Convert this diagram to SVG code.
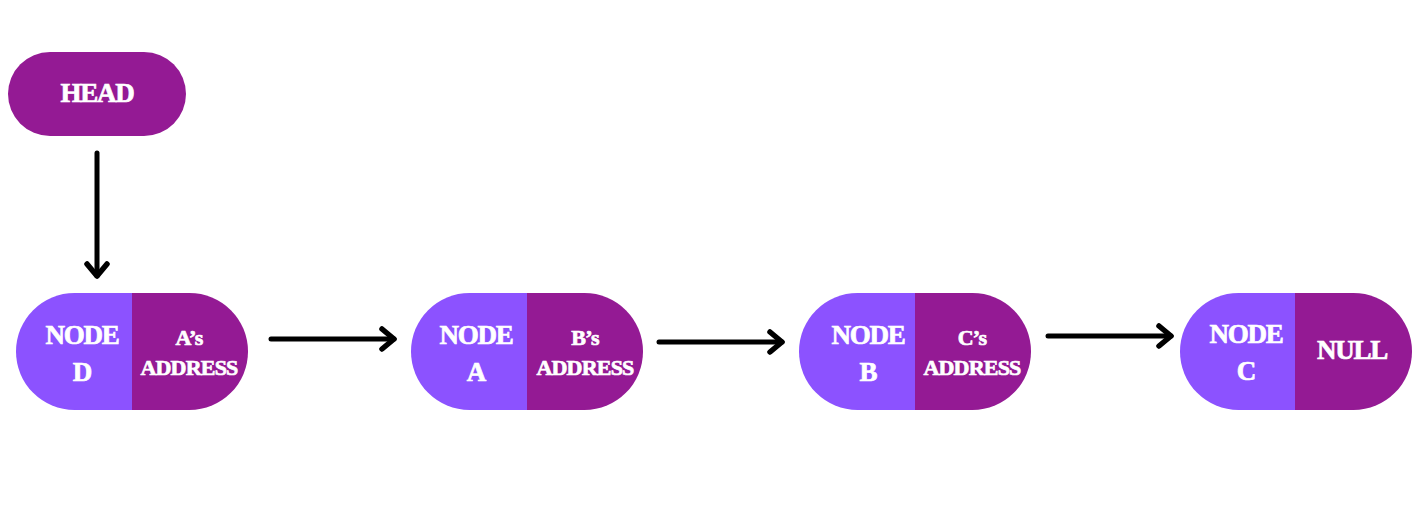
<svg xmlns="http://www.w3.org/2000/svg" width="1417" height="520" viewBox="0 0 1417 520">
<defs>
<style>
.dark{fill:#941a94}
.light{fill:#8c52ff}
.t{fill:#ffffff;stroke:#ffffff;stroke-width:0.7px;font-family:"Liberation Serif","DejaVu Serif",serif;font-weight:bold;text-anchor:middle}
.big{font-size:27px;letter-spacing:-1.2px}
.small{font-size:22px;letter-spacing:-0.8px}
.conn{stroke:#000;stroke-width:5;fill:none;stroke-linecap:round}
</style>
<marker id="arr" markerUnits="userSpaceOnUse" markerWidth="30" markerHeight="30" viewBox="-20 -15 30 30" refX="0" refY="0" orient="auto">
<path d="M-12,-10 L0,0 L-12,10" fill="none" stroke="#000" stroke-width="5.5" stroke-linecap="round" stroke-linejoin="round"/>
</marker>
<clipPath id="pill"><rect x="0" y="0" width="232" height="117" rx="58.5"/></clipPath>
</defs>
<rect width="1417" height="520" fill="#ffffff"/>
<g id="head">
<rect class="dark" x="8" y="52" width="178" height="84" rx="42"/>
<text class="t big" x="97" y="102">HEAD</text>
</g>
<g id="nodeD" transform="translate(16,293)">
<g clip-path="url(#pill)">
<rect class="light" x="0" y="0" width="116" height="117"/>
<rect class="dark" x="116" y="0" width="116" height="117"/>
</g>
<text class="t big" x="66" y="51">NODE</text>
<text class="t big" x="66" y="88">D</text>
<text class="t small" x="173" y="52">A’s</text>
<text class="t small" x="173" y="82">ADDRESS</text>
</g>
<g id="nodeA" transform="translate(411,293)">
<g clip-path="url(#pill)">
<rect class="light" x="0" y="0" width="116" height="117"/>
<rect class="dark" x="116" y="0" width="116" height="117"/>
</g>
<text class="t big" x="65" y="51">NODE</text>
<text class="t big" x="65" y="88">A</text>
<text class="t small" x="174" y="52">B’s</text>
<text class="t small" x="174" y="82">ADDRESS</text>
</g>
<g id="nodeB" transform="translate(799,293)">
<g clip-path="url(#pill)">
<rect class="light" x="0" y="0" width="116" height="117"/>
<rect class="dark" x="116" y="0" width="116" height="117"/>
</g>
<text class="t big" x="69" y="51">NODE</text>
<text class="t big" x="69" y="88">B</text>
<text class="t small" x="173" y="52">C’s</text>
<text class="t small" x="173" y="82">ADDRESS</text>
</g>
<g id="nodeC" transform="translate(1180,293)">
<g clip-path="url(#pill)">
<rect class="light" x="0" y="0" width="115" height="117"/>
<rect class="dark" x="115" y="0" width="117" height="117"/>
</g>
<text class="t big" x="66" y="50">NODE</text>
<text class="t big" x="66" y="87">C</text>
<text class="t big" x="172" y="66">NULL</text>
</g>
<g id="connectors">
<line class="conn" x1="97" y1="153" x2="97" y2="276" marker-end="url(#arr)"/>
<line class="conn" x1="271" y1="339" x2="394" y2="339" marker-end="url(#arr)"/>
<line class="conn" x1="659" y1="342" x2="782" y2="342" marker-end="url(#arr)"/>
<line class="conn" x1="1048" y1="336" x2="1171" y2="336" marker-end="url(#arr)"/>
</g>
</svg>
